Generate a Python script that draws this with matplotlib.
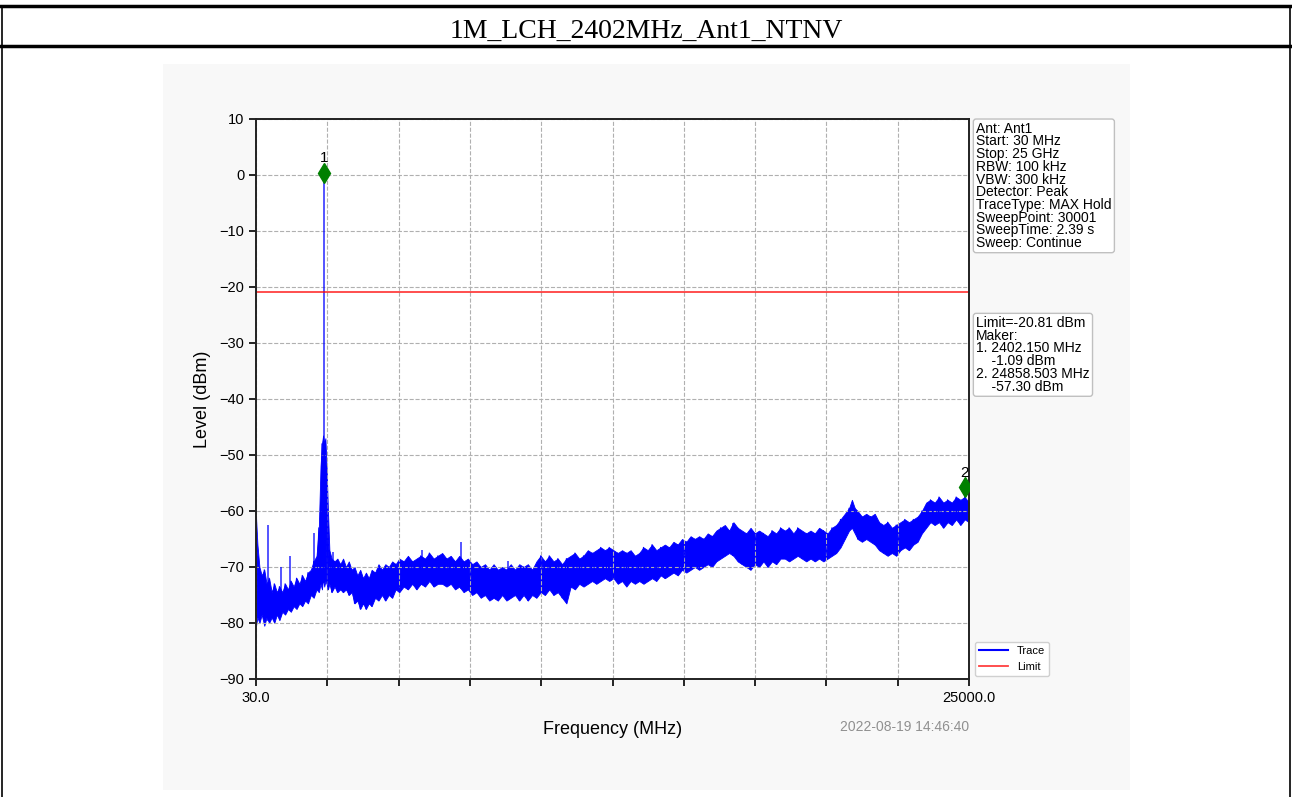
import matplotlib
matplotlib.use('Agg')
import matplotlib.pyplot as plt
import numpy as np
from matplotlib.patches import Rectangle
from matplotlib.lines import Line2D

# Enveloppe de la trace (MHz, dBm) : haut / bas du bruit
freq = [30, 80, 150, 230, 320, 400, 490, 580, 670, 760, 850, 950, 1050, 1150, 1250,
        1350, 1450, 1550, 1650, 1750, 1850, 1950, 2050, 2150, 2230, 2290, 2340, 2380,
        2420, 2460, 2500, 2550, 2600, 2680, 2780, 2880, 2980, 3080, 3180, 3280, 3380,
        3480, 3580, 3680, 3780, 3880, 3980, 4080, 4200, 4320, 4440, 4560, 4680, 4800,
        4920, 5050, 5200, 5350, 5500, 5650, 5800, 5950, 6100, 6250, 6400, 6550, 6700,
        6850, 7000, 7150, 7300, 7450, 7600, 7750, 7900, 8050, 8200, 8350, 8500, 8650,
        8800, 8950, 9100, 9250, 9400, 9550, 9700, 9850, 10000, 10150, 10300, 10450,
        10600, 10750, 10900, 11050, 11200, 11350, 11500, 11650, 11800, 11950, 12100,
        12250, 12400, 12550, 12700, 12850, 13000, 13150, 13300, 13450, 13600, 13750,
        13900, 14050, 14200, 14350, 14500, 14650, 14800, 14950, 15100, 15250, 15400,
        15550, 15700, 15850, 16000, 16150, 16300, 16450, 16600, 16750, 16900, 17050,
        17200, 17350, 17500, 17650, 17800, 17950, 18100, 18250, 18400, 18550, 18700,
        18850, 19000, 19150, 19300, 19450, 19600, 19750, 19900, 20050, 20200, 20350,
        20500, 20650, 20800, 20900, 21000, 21100, 21250, 21400, 21550, 21700, 21850,
        22000, 22150, 22300, 22450, 22600, 22750, 22900, 23050, 23200, 23350, 23500,
        23650, 23800, 23950, 24100, 24250, 24400, 24550, 24700, 24850, 25000]
upper = [-61, -66, -70, -71.5, -70.5, -73, -72, -74.5, -73, -74.5, -73.5, -74.5, -73, -74, -72.5,
         -73.5, -72, -73, -71.5, -72.5, -71, -70.5, -69, -68, -63, -52, -48, -46.5,
         -48, -47, -52, -60, -67, -68.5, -69, -68.5, -69.5, -68.5, -70, -69, -70.5,
         -70, -71.5, -70.5, -72, -71, -72, -70.5, -71, -69.5, -70.5, -69.5, -70, -69,
         -69.5, -68.5, -69, -68, -69, -68.5, -68, -68.5, -67.5, -68.5, -68, -67.5, -68.5,
         -68, -69, -68, -69, -68.5, -69.5, -69, -70, -69.5, -70.5, -69.5, -70.5, -70,
         -70.5, -69.5, -70.5, -69.5, -70, -69.5, -70.5, -69, -68, -69, -68, -69,
         -68.5, -69.5, -68.5, -68, -67.5, -68.5, -68, -67, -67.5, -67, -66.5,
         -67, -66.5, -67, -67.5, -67, -67.5, -67, -68, -67.5, -66.5, -67,
         -66, -67, -66.5, -66, -66.5, -65.5, -66, -65, -65.5, -64.5, -65,
         -64.5, -65, -64, -64.5, -63.5, -63, -62.5, -63.5, -62, -63, -63.5,
         -64, -63, -64, -63.5, -64, -64.5, -63.5, -64, -63, -63.5, -63,
         -64, -63, -63.5, -64, -63.5, -64, -63, -63.5, -64, -63, -62.5,
         -61.5, -60.5, -59.5, -58, -59.5, -60, -61, -60.5, -61, -60.5, -62,
         -62.5, -62, -63, -62.5, -62, -61.5, -62, -61.5, -61, -60, -58.5,
         -58, -58.5, -57.5, -58.5, -58, -58.5, -57.5, -58, -57.5, -58.5]
lower = [-80.5, -79, -80, -78.5, -80.5, -79, -80, -79, -80, -78.5, -79.5, -78, -78.5, -77.5, -78,
         -77, -77.5, -76.5, -77, -76, -76.5, -75, -75.5, -74, -74.5, -73, -74, -72,
         -73.5, -72.5, -73, -74, -73, -74.5, -73.5, -74.5, -74, -74.5, -74, -75, -74.5,
         -76.5, -76, -77.5, -76.5, -77.5, -76.5, -77, -75.5, -76, -75, -76, -75, -75.5,
         -74, -74.5, -73.5, -74, -73, -74, -73, -73.5, -72.5, -73.5, -73, -73, -73.5,
         -73, -74, -73.5, -74.5, -74, -75, -74.5, -75.5, -75, -76, -75.5, -76, -75,
         -76, -75.5, -75, -76, -75, -76, -75, -75.5, -74.5, -75, -74, -75,
         -74.5, -75.5, -76.5, -73.5, -74, -73, -73.5, -73, -72.5, -73, -72.5,
         -72, -72.5, -72, -73, -72.5, -73.5, -72.5, -73, -72.5, -73, -72.5,
         -72, -72.5, -71.5, -72, -71.5, -71, -71.5, -70.5, -71, -70.5, -70,
         -70.5, -70, -69.5, -70, -69, -68.5, -68, -67.5, -68, -69, -69.5,
         -70, -70.5, -69.5, -70, -69, -70, -69, -69.5, -68.5, -68.5, -69,
         -68.5, -68, -68.5, -69, -68.5, -69, -68.5, -69, -68.5, -68, -67.5,
         -66.5, -65, -63.5, -63, -64, -65, -65.5, -65, -65.5, -66, -67,
         -67.5, -68, -67.5, -68, -67, -66.5, -67, -66, -65.5, -64, -63,
         -62, -62.5, -62, -63, -62, -62.5, -61.5, -62.5, -61.5, -62]

# Raies isolées (MHz, dBm)
spike_freq = [450, 905, 1220, 2060, 2402.15, 2727, 5843, 7210, 8855, 16735]
spike_level = [-62.5, -70, -68, -64, 0.4, -67.3, -67, -65.5, -69, -62.1]

# Marqueurs
marker_freq = [2402.15, 24858.503]
marker_level = [0.4, -55.7]
marker_names = ['1', '2']

limit = -20.81

info_text = ("Ant: Ant1\nStart: 30 MHz\nStop: 25 GHz\nRBW: 100 kHz\nVBW: 300 kHz\n"
             "Detector: Peak\nTraceType: MAX Hold\nSweepPoint: 30001\n"
             "SweepTime: 2.39 s\nSweep: Continue")
marker_text = ("Limit=-20.81 dBm\nMaker:\n1. 2402.150 MHz\n    -1.09 dBm\n"
               "2. 24858.503 MHz\n    -57.30 dBm")

plt.rcParams['font.family'] = ['Liberation Sans', 'DejaVu Sans']

fig = plt.figure(figsize=(12.92, 7.97), dpi=100)

# Cadre du tableau et fond gris
fig.patches.append(Rectangle((163 / 1292, 1 - 790 / 797), (1130 - 163) / 1292, (790 - 64) / 797,
                             transform=fig.transFigure, facecolor='#f8f8f8', edgecolor='none', zorder=-5))
for yy, lw in [(6, 2.5), (46, 2.5)]:
    fig.lines.append(Line2D([0, 1], [1 - yy / 797] * 2, transform=fig.transFigure, color='black', lw=lw))
for xx in [2, 1290]:
    fig.lines.append(Line2D([xx / 1292] * 2, [0, 1 - 6 / 797], transform=fig.transFigure, color='black', lw=1.2))

fig.text(0.5, 1 - 31 / 797, "1M_LCH_2402MHz_Ant1_NTNV", ha='center', va='center',
         fontsize=20, family='Liberation Serif')

ax = fig.add_axes([256 / 1292, 1 - 679 / 797, 713 / 1292, 560 / 797])
ax.set_zorder(2)
ax.set_facecolor('white')

# Trace
ax.fill_between(freq, lower, upper, color='blue', lw=0.6)
zig_y = [u if i % 2 == 0 else l for i, (u, l) in enumerate(zip(upper, lower))]
ax.plot(freq, zig_y, color='blue', lw=0.8)
base = np.interp(spike_freq, freq, lower)
ax.vlines(spike_freq, base, spike_level, color='blue', lw=1.1, alpha=0.85)

ax.axhline(limit, color='red', lw=1.3, alpha=0.75)

ax.plot(marker_freq, marker_level, linestyle='none', marker='d', markersize=10,
        color='green', zorder=5)
for f, l, n in zip(marker_freq, marker_level, marker_names):
    ax.text(f, l + 1.3, n, ha='center', va='bottom', fontsize=11, clip_on=True)

ax.set_xlim(30, 25000)
ax.set_ylim(-90, 10)
xt = np.linspace(30, 25000, 11)
ax.set_xticks(xt)
ax.set_xticklabels(['30.0'] + [''] * 9 + ['25000.0'])
ax.set_yticks(np.arange(-90, 11, 10))
ax.tick_params(labelsize=10.5, direction='out', length=5, width=1.2)
ax.grid(True, linestyle='--', color='#b0b0b0', lw=0.8)
for s in ax.spines.values():
    s.set_color('#222222')
    s.set_linewidth(1.4)

ax.set_xlabel("Frequency (MHz)", fontsize=13, labelpad=12)
ax.set_ylabel("Level (dBm)", fontsize=13, labelpad=6)

box = dict(boxstyle='round,pad=0.2', facecolor='white', edgecolor='#c0c0c0')
ax.text(1.01, 0.995, info_text, transform=ax.transAxes, va='top', ha='left',
        fontsize=10, linespacing=0.88, bbox=box)
ax.text(1.01, 0.648, marker_text, transform=ax.transAxes, va='top', ha='left',
        fontsize=10, linespacing=0.88, bbox=box)

handles = [Line2D([], [], color='blue', lw=1.5), Line2D([], [], color='red', lw=1.3, alpha=0.75)]
ax.legend(handles, ['Trace', 'Limit'], loc='lower left', bbox_to_anchor=(1.0, -0.005),
          fontsize=8, handlelength=2.6, framealpha=1, edgecolor='#d0d0d0')

fig.text(969 / 1292, 1 - 727 / 797, "2022-08-19 14:46:40", ha='right', va='center',
         fontsize=10, color='#909090')

plt.savefig('out.png', dpi=100)
